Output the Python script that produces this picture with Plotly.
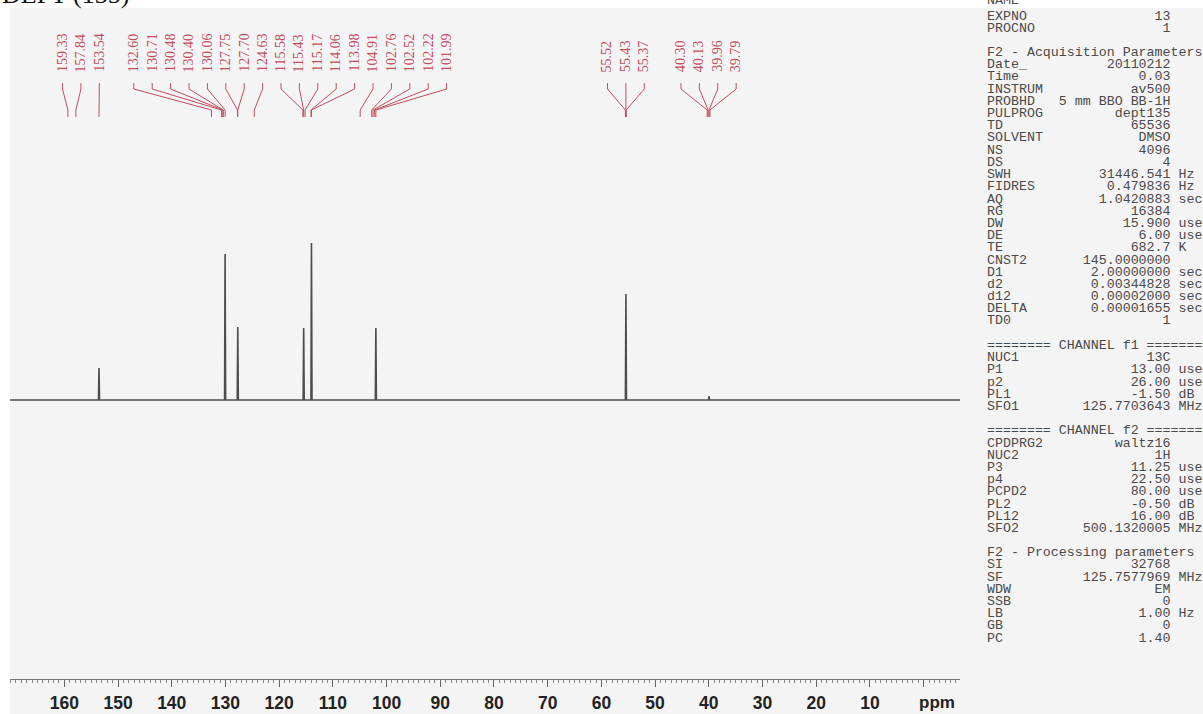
import plotly.graph_objects as go

# ---------------------------------------------------------------- data
# Peak-picked chemical shifts (ppm) printed above the spectrum
label_ppm = [159.33, 157.84, 153.54, 132.60, 130.71, 130.48, 130.40, 130.06,
             127.75, 127.70, 124.63, 115.58, 115.43, 115.17, 114.06, 113.98,
             104.91, 102.76, 102.52, 102.22, 101.99, 55.52, 55.43, 55.37,
             40.30, 40.13, 39.96, 39.79]

# Signals seen in the DEPT-135 trace: shift (ppm) and intensity (arb. units)
peak_ppm = [153.54, 130.06, 127.70, 115.43, 113.98, 101.99, 55.43, 39.96]
peak_int = [32, 146, 73, 72, 157, 72, 106, 4]

# ppm axis ticks and their labels
tick_vals = list(range(0, 161, 10))
tick_text = ["" if v == 0 else str(v) for v in tick_vals]

# Acquisition / processing parameter listing
title_text = "DEPT (135)"
param_rows = [
    ("NAME", "", ""),
    ("EXPNO", "13", ""),
    ("PROCNO", "1", ""),
    None,
    "F2 - Acquisition Parameters",
    ("Date_", "20110212", ""),
    ("Time", "0.03", ""),
    ("INSTRUM", "av500", ""),
    ("PROBHD", "5 mm BBO BB-1H", ""),
    ("PULPROG", "dept135", ""),
    ("TD", "65536", ""),
    ("SOLVENT", "DMSO", ""),
    ("NS", "4096", ""),
    ("DS", "4", ""),
    ("SWH", "31446.541", "Hz"),
    ("FIDRES", "0.479836", "Hz"),
    ("AQ", "1.0420883", "sec"),
    ("RG", "16384", ""),
    ("DW", "15.900", "usec"),
    ("DE", "6.00", "usec"),
    ("TE", "682.7", "K"),
    ("CNST2", "145.0000000", ""),
    ("D1", "2.00000000", "sec"),
    ("d2", "0.00344828", "sec"),
    ("d12", "0.00002000", "sec"),
    ("DELTA", "0.00001655", "sec"),
    ("TD0", "1", ""),
    None,
    "======== CHANNEL f1 ========",
    ("NUC1", "13C", ""),
    ("P1", "13.00", "usec"),
    ("p2", "26.00", "usec"),
    ("PL1", "-1.50", "dB"),
    ("SFO1", "125.7703643", "MHz"),
    None,
    "======== CHANNEL f2 ========",
    ("CPDPRG2", "waltz16", ""),
    ("NUC2", "1H", ""),
    ("P3", "11.25", "usec"),
    ("p4", "22.50", "usec"),
    ("PCPD2", "80.00", "usec"),
    ("PL2", "-0.50", "dB"),
    ("PL12", "16.00", "dB"),
    ("SFO2", "500.1320005", "MHz"),
    None,
    "F2 - Processing parameters",
    ("SI", "32768", ""),
    ("SF", "125.7577969", "MHz"),
    ("WDW", "EM", ""),
    ("SSB", "0", ""),
    ("LB", "1.00", "Hz"),
    ("GB", "0", ""),
    ("PC", "1.40", ""),
]

# ---------------------------------------------------------------- layout constants
W, H = 1203, 714
X0_PX, X1_PX = 10, 960            # horizontal extent of the spectrum / ruler
PPM_LEFT, PPM_RIGHT = 170.11, -6.77
Y_BOT_PX, Y_TOP_PX = 679, 8       # ruler line and top of the page area
BASE_PX = 400                     # baseline of the trace
Y_LO = -(Y_BOT_PX - BASE_PX)      # intensity units are screen pixels
Y_HI = BASE_PX - Y_TOP_PX

PAGE_GREY = "#f4f4f4"
TRACE_CLR = "#4d4d4d"
LABEL_CLR = "#c24c5c"
TEXT_CLR = "#4a4a4a"

PX_PER_PPM = (X1_PX - X0_PX) / (PPM_LEFT - PPM_RIGHT)
LABEL_GAP = 18.4 / PX_PER_PPM     # minimum label separation, ppm
PEAK_HW = 0.1                     # half width of a drawn line, ppm


def ydat(px):
    """screen row -> intensity coordinate"""
    return BASE_PX - px


def ypaper(px):
    return 1 - px / H


def spread_labels(values, gap):
    """Place labels (sorted high->low) so neighbours are at least `gap` apart,
    each overlapping cluster centred on the mean of its members."""
    clusters = [[v] for v in values]

    def place(c):
        centre = sum(c) / len(c)
        return [centre + (len(c) - 1) / 2 * gap - i * gap for i in range(len(c))]

    changed = True
    while changed:
        changed = False
        for i in range(len(clusters) - 1):
            if place(clusters[i])[-1] - place(clusters[i + 1])[0] < gap:
                clusters[i] = clusters[i] + clusters[i + 1]
                del clusters[i + 1]
                changed = True
                break
    out = []
    for c in clusters:
        out += place(c)
    return out


# ---------------------------------------------------------------- spectrum trace
spec_x, spec_y = [PPM_LEFT], [0]
for p, h in sorted(zip(peak_ppm, peak_int), reverse=True):
    spec_x += [p + PEAK_HW, p, p - PEAK_HW]
    spec_y += [0, h, 0]
spec_x.append(PPM_RIGHT)
spec_y.append(0)

fig = go.Figure()
fig.add_trace(go.Scatter(
    x=spec_x, y=spec_y, mode="lines",
    line=dict(color=TRACE_CLR, width=1.6),
    hoverinfo="skip", showlegend=False,
))

# ---------------------------------------------------------------- peak labels and leaders
lab_sorted = sorted(label_ppm, reverse=True)
lab_pos = spread_labels(lab_sorted, LABEL_GAP)

lead_x, lead_y = [], []
for p, lp in zip(lab_sorted, lab_pos):
    lead_x += [lp, lp, p, p, None]
    lead_y += [ydat(83), ydat(89), ydat(110), ydat(117), None]
fig.add_trace(go.Scatter(
    x=lead_x, y=lead_y, mode="lines",
    line=dict(color=LABEL_CLR, width=1),
    hoverinfo="skip", showlegend=False,
))

annotations = []
for p, lp in zip(lab_sorted, lab_pos):
    annotations.append(dict(
        x=lp, y=ydat(74), xref="x", yref="y",
        text=f"{p:.2f}", showarrow=False, textangle=-90,
        xanchor="center", yanchor="bottom",
        font=dict(family="Liberation Serif, Times New Roman, serif",
                  size=14, color=LABEL_CLR),
    ))

# ---------------------------------------------------------------- title and unit
annotations.append(dict(
    x=0, y=ypaper(11), xref="paper", yref="paper",
    text=title_text, showarrow=False, xanchor="left", yanchor="bottom",
    font=dict(family="Liberation Serif, Times New Roman, serif", size=26, color="#111"),
))
annotations.append(dict(
    x=1, y=ypaper(702), xref="x domain", yref="paper",
    text="ppm", showarrow=False, xanchor="right", yanchor="middle", xshift=-3,
    font=dict(family="Liberation Sans, Arial, sans-serif", size=17,
              color="#222", weight="bold"),
))

# ---------------------------------------------------------------- parameter listing
NB = "\u00a0"
ROW0_PX, ROW_PITCH = 3.8, 12.2
for i, row in enumerate(param_rows):
    if row is None:
        continue
    if isinstance(row, str):
        line = row
    else:
        name, val, unit = row
        line = f"{name:<8}{val:>15}" if val else name
        if unit:
            line += " " + unit
    y_px = ROW0_PX + i * ROW_PITCH
    if i == 0:
        y_px -= 3          # first row sits at the top edge of the sheet
    annotations.append(dict(
        x=985 / W, y=ypaper(y_px), xref="paper", yref="paper",
        text=line.replace(" ", NB), showarrow=False,
        xanchor="left", yanchor="middle", align="left",
        font=dict(family="Liberation Mono, Courier New, monospace",
                  size=13.3, color=TEXT_CLR),
    ))

# ---------------------------------------------------------------- page
shapes = [
    dict(type="rect", xref="paper", yref="paper", x0=0, x1=1,
         y0=ypaper(Y_TOP_PX), y1=1, fillcolor="white", line=dict(width=0), layer="below"),
    dict(type="rect", xref="paper", yref="paper", x0=0, x1=X0_PX / W,
         y0=0, y1=1, fillcolor="white", line=dict(width=0), layer="below"),
]

fig.update_layout(
    width=W, height=H,
    margin=dict(l=0, r=0, t=0, b=0),
    paper_bgcolor=PAGE_GREY, plot_bgcolor="rgba(0,0,0,0)",
    showlegend=False,
    shapes=shapes,
    annotations=annotations,
    xaxis=dict(
        domain=[X0_PX / W, X1_PX / W],
        range=[PPM_LEFT, PPM_RIGHT],
        tickmode="array", tickvals=tick_vals, ticktext=tick_text,
        ticks="outside", ticklen=7, tickwidth=1, tickcolor="#666",
        showline=True, linecolor="#777", linewidth=1,
        showgrid=False, zeroline=False,
        ticklabelstandoff=1,
        tickfont=dict(family="Liberation Sans, Arial, sans-serif", size=17.5,
                      color="#222", weight="bold"),
        minor=dict(tickmode="linear", tick0=0, dtick=1, ticks="outside",
                   ticklen=3, tickcolor="#888", showgrid=False),
    ),
    yaxis=dict(
        domain=[ypaper(Y_BOT_PX), ypaper(Y_TOP_PX)],
        range=[Y_LO, Y_HI], visible=False,
    ),
)

fig.write_html("out.html")
